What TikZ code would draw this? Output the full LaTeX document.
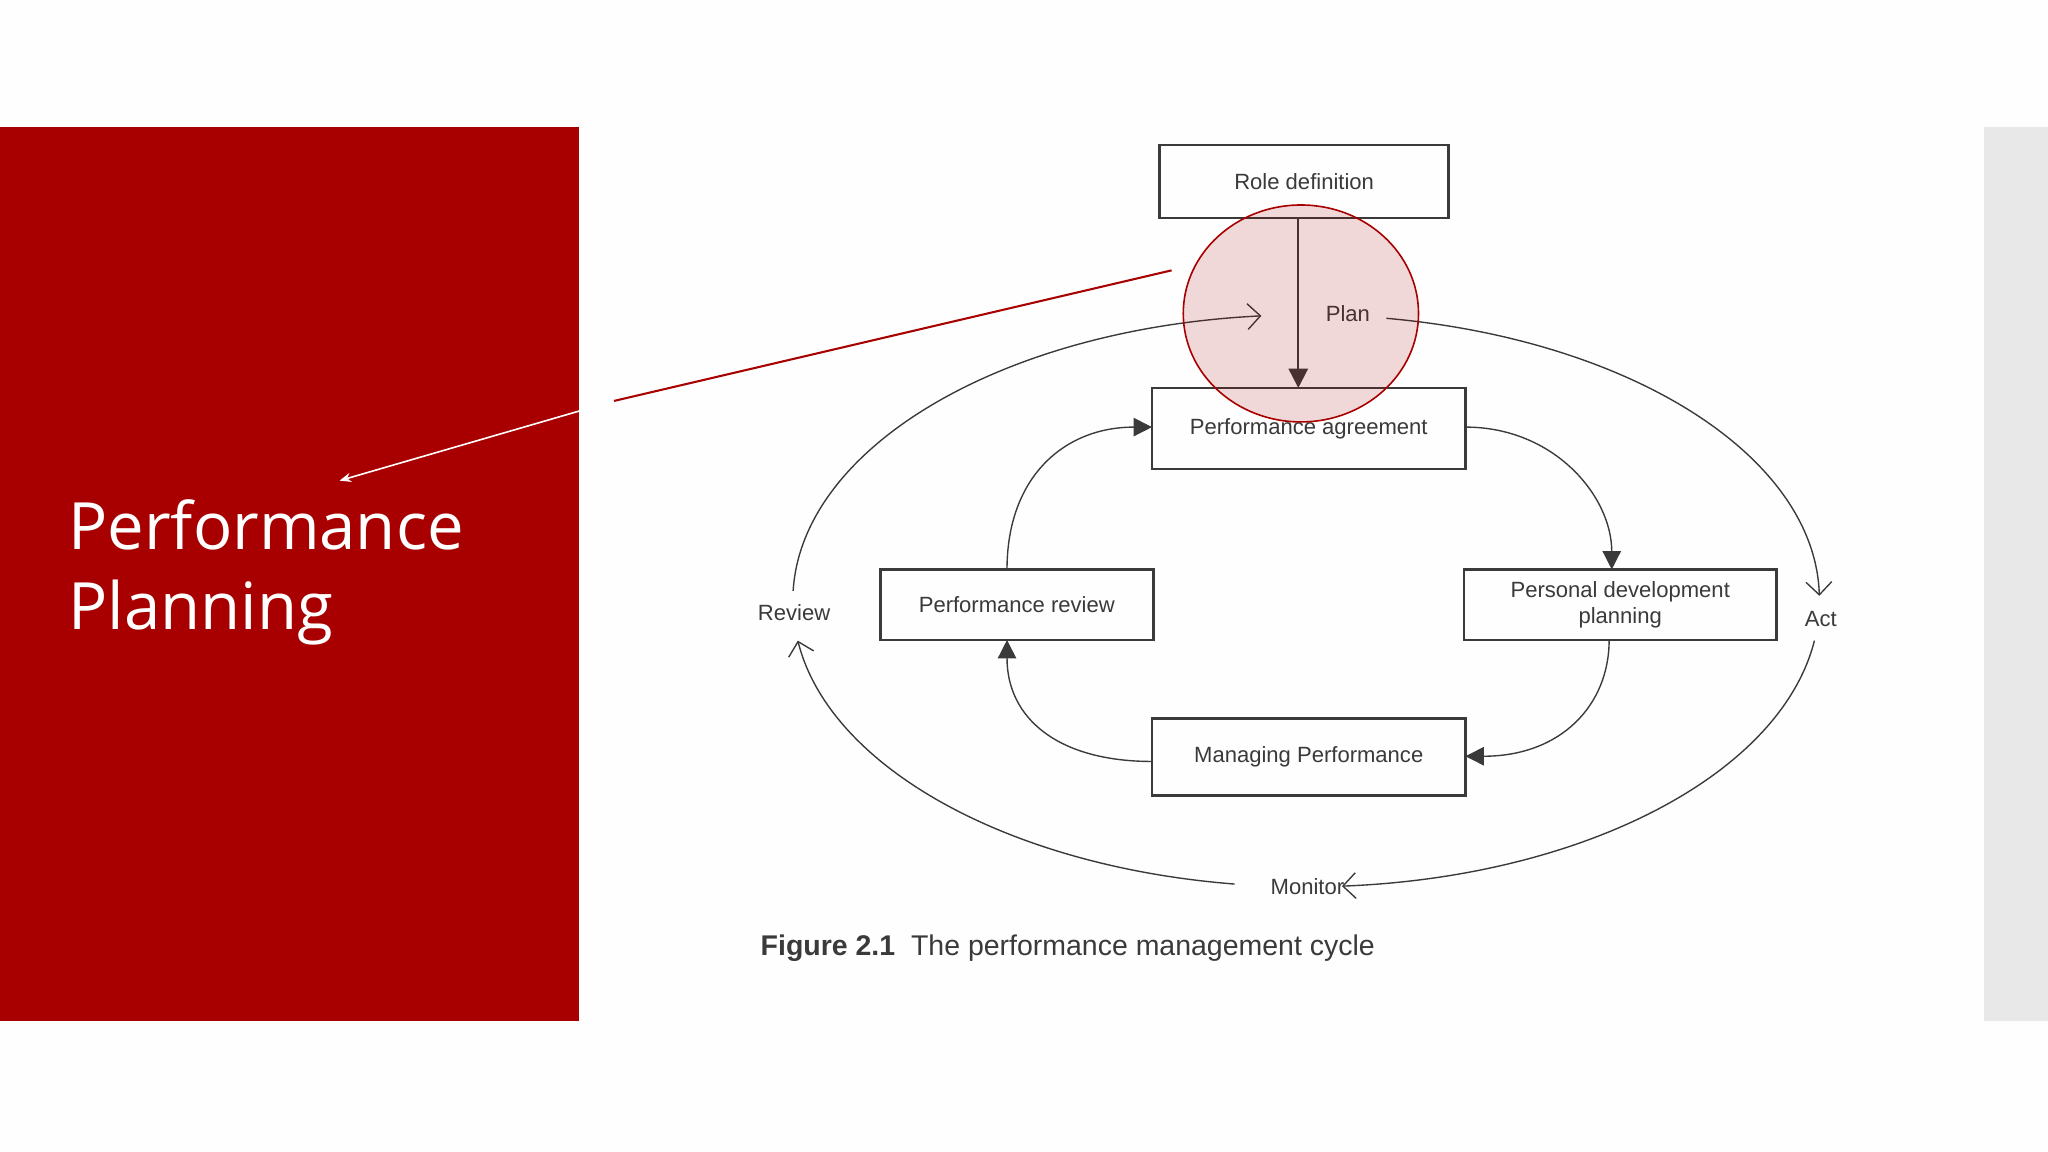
\documentclass[tikz,border=0pt]{standalone}
\usepackage{fontspec}
\setmainfont{Liberation Sans}
\newfontfamily\titlefont{Open Sans}
\usetikzlibrary{arrows.meta,shapes.geometric}
\definecolor{slidered}{HTML}{A80000}
\definecolor{ink}{HTML}{3A3A3A}
\tikzset{
 box/.style={draw=ink,line width=0.55pt,rectangle,inner sep=0pt,font=\fontsize{4.8}{5.6}\selectfont,text=ink,align=center},
 lab/.style={font=\fontsize{4.8}{5.6}\selectfont,text=ink},
 cyc/.style={draw=ink,line width=0.3pt},
 open/.style={-{Straight Barb[length=2.8pt,width=5.6pt]}},
 solid/.style={-{Triangle[length=4pt,width=4pt]}}
}
\begin{document}
\begin{tikzpicture}[x=0.01cm,y=-0.01cm]
\useasboundingbox (0,0) rectangle (1568,882);
\fill[white!99!gray] (0,0) rectangle (1568,882);
\fill[slidered] (0,97) rectangle (443,782);
\fill[gray!18] (1519,97) rectangle (1568,782);
\node[anchor=west,text=white,align=left,font=\titlefont\fontsize{14.2}{17.5}\selectfont] (title) at (40,438) {Performance\\Planning};
% boxes
\node[box,minimum width=2.21cm,minimum height=0.56cm] (role) at (998.5,139) {Role definition};
\node[box,minimum width=2.40cm,minimum height=0.62cm] (pa) at (1002,328) {Performance agreement};
\node[box,minimum width=2.09cm,minimum height=0.54cm] (pr) at (778.5,463) {Performance review};
\node[box,minimum width=2.39cm,minimum height=0.54cm] (pdp) at (1240.5,463) {Personal development\\planning};
\node[box,minimum width=2.40cm,minimum height=0.59cm] (mp) at (1002,579.5) {Managing Performance};
\node[lab] (plan) at (1032,240) {Plan};
\node[lab] (review) at (608,469) {Review};
\node[lab] (act) at (1394,474) {Act};
\node[lab] (monitor) at (1001,679) {Monitor};
\node[anchor=west,font=\fontsize{6.2}{8}\selectfont,text=ink] (cap) at (570,726) {\textbf{Figure 2.1}\ \ The performance management cycle};
% outer cycle
\draw[cyc,open] (1000,460) ++(182:393 and 219) arc[start angle=182,end angle=265,x radius=393,y radius=219];
\draw[cyc,open] (1000,460) ++(279:393 and 219) arc[start angle=279,end angle=359,x radius=393,y radius=219];
\draw[cyc,open] (1000,460) ++(8:393 and 219) arc[start angle=8,end angle=86,x radius=393,y radius=219];
\draw[cyc,open] (1000,460) ++(98:393 and 219) arc[start angle=98,end angle=172,x radius=393,y radius=219];
% inner cycle
\coordinate (prt) at (771,436);
\coordinate (pal) at (882,327);
\draw[cyc,solid] (prt) .. controls (771,365) and (815,327) .. (pal);
\coordinate (par) at (1122,327);
\coordinate (pdpt) at (1234,436);
\draw[cyc,solid] (par) .. controls (1190,327) and (1234,380) .. (pdpt);
\coordinate (pdpb) at (1232,490);
\coordinate (mpr) at (1122,579);
\draw[cyc,solid] (pdpb) .. controls (1232,540) and (1195,579) .. (mpr);
\coordinate (mpl) at (882,583);
\coordinate (prb) at (771,490);
\draw[cyc,solid] (mpl) .. controls (810,583) and (771,550) .. (prb);
% role to agreement
\coordinate (rb) at (994,167);
\coordinate (pat) at (994,297);
\draw[cyc,line width=0.45pt,-{Triangle[length=4.2pt,width=4.2pt]}] (rb) -- (pat);
% highlight
\node[draw=slidered,fill=slidered,fill opacity=0.15,draw opacity=1,ellipse,minimum width=1.80cm,minimum height=1.66cm,inner sep=0pt,line width=0.35pt] (hl) at (996,240) {};
\coordinate (k1) at (897,207);
\coordinate (k2) at (470,307);
\coordinate (k3) at (260,368);
\draw[slidered,line width=0.45pt] (k1) -- (k2);
\draw[white,line width=0.35pt,-{Stealth[length=2.5pt,width=2pt]}] (k2) -- (k3);
\end{tikzpicture}
\end{document}
